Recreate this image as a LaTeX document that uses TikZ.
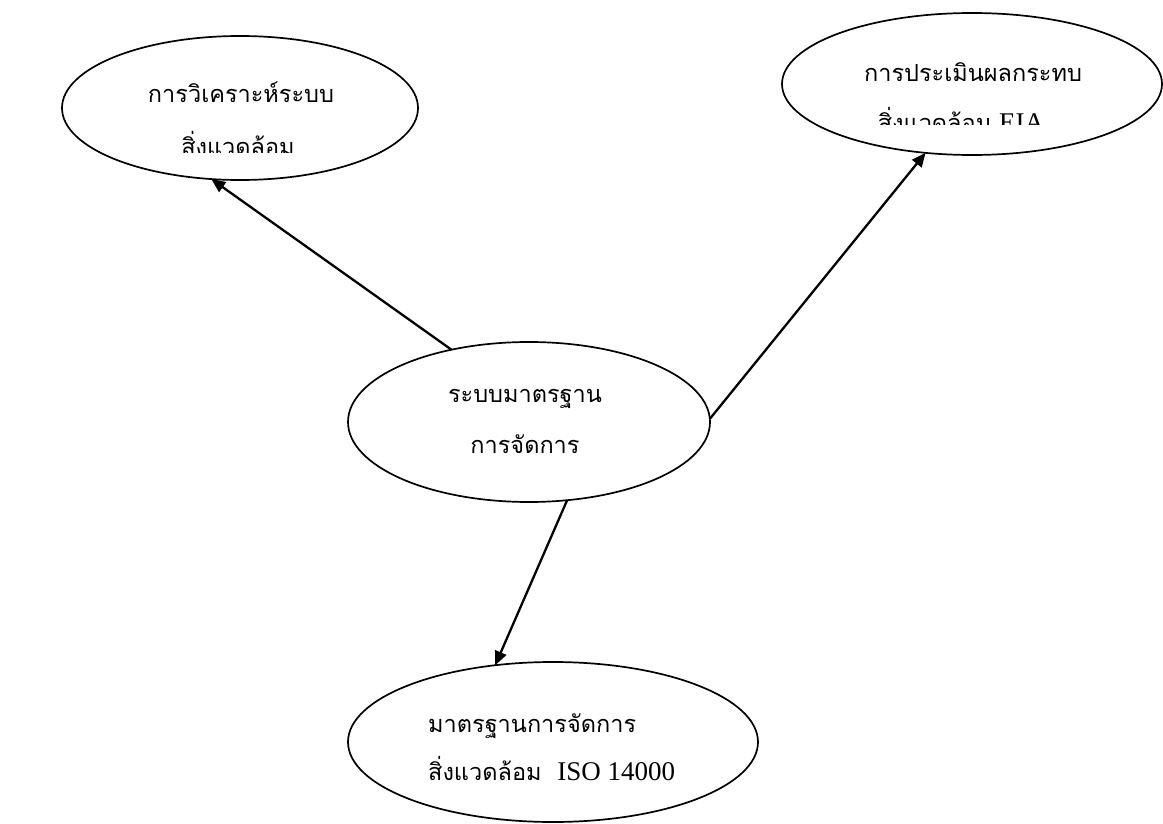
\documentclass[tikz,border=0pt]{standalone}
\usepackage{fontspec}
\setmainfont{Liberation Serif}
\newfontfamily\thai[Script=Thai]{Loma}
\usetikzlibrary{shapes.geometric,arrows.meta}
\newcommand{\latin}[1]{{\rmfamily\fontsize{27}{30}\selectfont #1}}
\begin{document}
\begin{tikzpicture}[x=1pt,y=-1pt,
  bubble/.style={draw, ellipse, line width=1.7pt, inner sep=0pt, outer sep=0pt},
  txt/.style={anchor=base, inner sep=0pt, font=\thai\fontsize{23.5}{27}\selectfont},
  link/.style={line width=2.3pt, -{Triangle[length=14pt,width=12pt]}}]
\path[use as bounding box] (0,0) rectangle (1163,824);
% ellipses
\node[bubble, minimum width=356pt, minimum height=144pt] (E1) at (240,108) {};
\node[bubble, minimum width=380pt, minimum height=142pt] (E2) at (972,84) {};
\node[bubble, minimum width=362pt, minimum height=160pt] (C) at (529,422) {};
\node[bubble, minimum width=410pt, minimum height=160pt] (E4) at (553,742) {};
% texts
\node[txt] (t1a) at (241,103) {การวิเคราะห์ระบบ};
\begin{scope}
\clip (60,110) rectangle (420,153);
\node[txt] (t1b) at (238,156) {สิ่งแวดล้อม};
\end{scope}
\node[txt] (t2a) at (973,82) {การประเมินผลกระทบ};
\begin{scope}
\clip (780,85) rectangle (1163,125);
\node[txt] (t2b) at (961,132) {สิ่งแวดล้อม \latin{EIA}};
\end{scope}
\node[txt] (tca) at (525,402) {ระบบมาตรฐาน};
\node[txt] (tcb) at (525,453) {การจัดการ};
\node[txt, anchor=base west] (t4a) at (428,732) {มาตรฐานการจัดการ};
\node[txt, anchor=base west] (t4b) at (428,780) {สิ่งแวดล้อม\ \ \latin{ISO 14000}};
% connectors
\draw[link] (C.137) -- (E1.-112);
\draw[link] (C.1.6) -- (E2.-124.6);
\draw[link] (C.-64) -- (E4.127);
\end{tikzpicture}
\end{document}
